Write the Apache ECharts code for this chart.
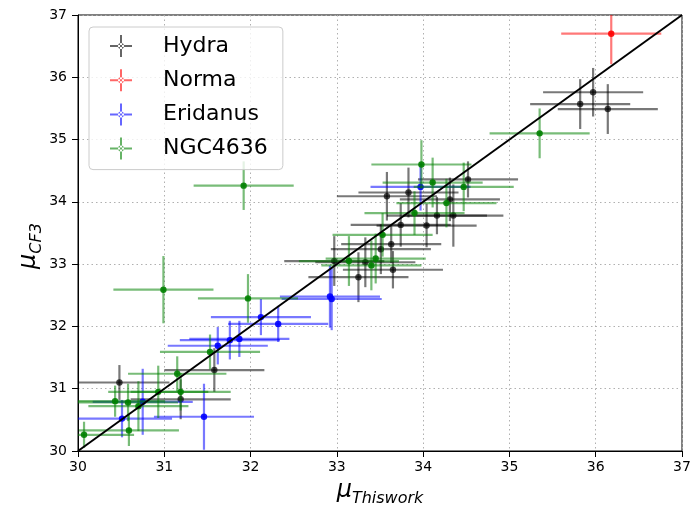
<!DOCTYPE html>
<html>
<head>
<meta charset="utf-8">
<script src="https://cdn.jsdelivr.net/npm/echarts@6/dist/echarts.min.js"></script>
<style>
  html, body { margin: 0; padding: 0; background: #fff; }
  #chart { width: 693px; height: 505px; }
</style>
</head>
<body>
<div id="chart"></div>
<script>
// Distance moduli: this work (x) vs. CF3 (y), with 1-sigma errors
var hydraMu   = [35.97, 35.82, 36.14, 34.52, 33.58, 33.83, 34.31, 34.16, 34.35, 33.74, 34.04, 33.63, 33.51, 33.65, 33.33, 32.97, 33.25, 31.58, 30.48, 31.19];
var hydraCF3  = [35.76, 35.57, 35.49, 34.36, 34.09, 34.15, 34.04, 33.78, 33.78, 33.63, 33.62, 33.32, 33.24, 32.91, 33.03, 33.05, 32.79, 31.30, 31.10, 30.83];
var hydraXErr = [0.58, 0.58, 0.58, 0.58, 0.58, 0.58, 0.58, 0.58, 0.58, 0.58, 0.58, 0.58, 0.58, 0.58, 0.58, 0.58, 0.58, 0.58, 0.58, 0.58];
var hydraYErr = [0.39, 0.40, 0.40, 0.29, 0.39, 0.40, 0.35, 0.30, 0.50, 0.35, 0.35, 0.30, 0.40, 0.30, 0.40, 0.40, 0.40, 0.35, 0.28, 0.32];

var normaMu   = [36.18];
var normaCF3  = [36.70];
var normaXErr = [0.58];
var normaYErr = [0.49];

var eridanusMu   = [30.51, 30.75, 31.46, 31.62, 31.76, 31.87, 32.12, 32.32, 32.92, 32.94, 33.97];
var eridanusCF3  = [30.52, 30.79, 30.55, 31.69, 31.78, 31.80, 32.15, 32.04, 32.48, 32.44, 34.24];
var eridanusXErr = [0.58, 0.58, 0.58, 0.58, 0.58, 0.58, 0.58, 0.58, 0.58, 0.58, 0.58];
var eridanusYErr = [0.30, 0.53, 0.53, 0.30, 0.31, 0.29, 0.29, 0.29, 0.50, 0.50, 0.38];

var ngcMu   = [31.92, 35.35, 30.99, 31.97, 31.53, 31.15, 31.19, 30.93, 30.70, 30.43, 30.58, 30.59, 30.07, 33.98, 34.11, 34.47, 34.27, 33.90, 33.53, 33.45, 33.40, 33.14];
var ngcCF3  = [34.26, 35.10, 32.59, 32.45, 31.59, 31.24, 30.95, 30.95, 30.72, 30.80, 30.78, 30.33, 30.26, 34.60, 34.31, 34.24, 33.98, 33.82, 33.47, 33.09, 32.98, 33.05];
var ngcXErr = [0.58, 0.58, 0.58, 0.58, 0.58, 0.57, 0.58, 0.58, 0.58, 0.58, 0.58, 0.58, 0.58, 0.58, 0.58, 0.58, 0.58, 0.58, 0.58, 0.58, 0.58, 0.58];
var ngcYErr = [0.39, 0.40, 0.54, 0.39, 0.28, 0.28, 0.30, 0.42, 0.40, 0.25, 0.30, 0.25, 0.21, 0.39, 0.40, 0.39, 0.39, 0.35, 0.35, 0.40, 0.40, 0.40];

var axisTicks = [30, 31, 32, 33, 34, 35, 36, 37];

var FONT = 'DejaVu Sans';

function zipRows(x, y, xe, ye) {
  return x.map(function (v, i) { return [v, y[i], xe[i], ye[i]]; });
}

function errorSeries(name, color, rows, dotOpacity) {
  return {
    name: name,
    type: 'custom',
    coordinateSystem: 'cartesian2d',
    clip: true,
    itemStyle: { color: color },
    encode: { x: 0, y: 1 },
    data: rows,
    renderItem: function (params, api) {
      var x = api.value(0), y = api.value(1), dx = api.value(2), dy = api.value(3);
      var c  = api.coord([x, y]);
      var l  = api.coord([x - dx, y]);
      var r  = api.coord([x + dx, y]);
      var t  = api.coord([x, y + dy]);
      var b  = api.coord([x, y - dy]);
      var bar = { stroke: color, lineWidth: 2.2, opacity: 0.53 };
      return {
        type: 'group',
        children: [
          { type: 'line', shape: { x1: l[0], y1: l[1], x2: r[0], y2: r[1] }, style: bar },
          { type: 'line', shape: { x1: t[0], y1: t[1], x2: b[0], y2: b[1] }, style: bar },
          { type: 'circle', shape: { cx: c[0], cy: c[1], r: 3.2 }, style: { fill: color, opacity: dotOpacity } }
        ]
      };
    }
  };
}

var legendIcon = 'path://M0,10h22v2h-22z M10,0h2v22h-2z M8,11a3,3 0 1,0 6,0a3,3 0 1,0 -6,0z';

var axisCommon = {
  type: 'value',
  min: 30,
  max: 37,
  interval: 1,
  axisLine: { show: true, onZero: false, lineStyle: { color: '#000', width: 1 } },
  axisTick: { show: true, inside: false, length: 6, lineStyle: { color: '#000', width: 1 } },
  axisLabel: { color: '#000', fontFamily: FONT, fontSize: 14,
    formatter: function (v) { return axisTicks.indexOf(v) >= 0 ? String(v) : ''; } },
  splitLine: { show: true, lineStyle: { color: '#b0b0b0', type: [1.5, 3], width: 1 } }
};

var nameRich = {
  m: { fontFamily: FONT, fontStyle: 'italic', fontSize: 24, color: '#000', lineHeight: 28, verticalAlign: 'bottom' },
  s: { fontFamily: FONT, fontStyle: 'italic', fontSize: 16, color: '#000', lineHeight: 28, verticalAlign: 'bottom', padding: [0, 0, -4, 0] }
};

var chart = echarts.init(document.getElementById('chart'), null, { renderer: 'canvas' });

chart.setOption({
  backgroundColor: '#fff',
  animation: false,
  grid: {
    left: 78, right: 11, top: 15, bottom: 54,
    containLabel: false,
    outerBoundsMode: 'none',
    show: true, borderColor: '#000', borderWidth: 1, backgroundColor: 'transparent'
  },
  xAxis: Object.assign({}, axisCommon, {
    axisLabel: Object.assign({}, axisCommon.axisLabel, { margin: 9 }),
    name: '{m|μ}{s|Thiswork}',
    nameLocation: 'middle',
    nameGap: 21,
    nameTextStyle: { rich: nameRich }
  }),
  yAxis: Object.assign({}, axisCommon, {
    axisLabel: Object.assign({}, axisCommon.axisLabel, { margin: 11 }),
    name: '{m|μ}{s|CF3}',
    nameLocation: 'middle',
    nameMoveOverlap: false,
    nameGap: 37,
    nameTextStyle: { rich: nameRich, padding: [0, 26, 0, 0] }
  }),
  legend: {
    orient: 'vertical',
    left: 89,
    top: 27,
    padding: [8, 15, 10, 21],
    itemWidth: 22,
    itemHeight: 22,
    itemGap: 12.2,
    backgroundColor: 'rgba(255,255,255,0.8)',
    borderColor: '#cccccc',
    borderWidth: 1,
    borderRadius: 4,
    textStyle: { fontFamily: FONT, fontSize: 22, color: '#000', padding: [0, 0, 0, 26] },
    itemStyle: { opacity: 0.6 },
    data: [
      { name: 'Hydra', icon: legendIcon },
      { name: 'Norma', icon: legendIcon },
      { name: 'Eridanus', icon: legendIcon },
      { name: 'NGC4636', icon: legendIcon }
    ]
  },
  series: [
    errorSeries('Hydra', '#000000', zipRows(hydraMu, hydraCF3, hydraXErr, hydraYErr), 0.7),
    errorSeries('Norma', '#ff0000', zipRows(normaMu, normaCF3, normaXErr, normaYErr), 0.9),
    errorSeries('Eridanus', '#0000ff', zipRows(eridanusMu, eridanusCF3, eridanusXErr, eridanusYErr), 0.9),
    errorSeries('NGC4636', '#008000', zipRows(ngcMu, ngcCF3, ngcXErr, ngcYErr), 0.9),
    {
      name: 'one-to-one',
      type: 'line',
      data: [[30, 30], [37, 37]],
      symbol: 'none',
      silent: true,
      z: 5,
      lineStyle: { color: '#000', width: 2 }
    }
  ]
});
</script>
</body>
</html>
